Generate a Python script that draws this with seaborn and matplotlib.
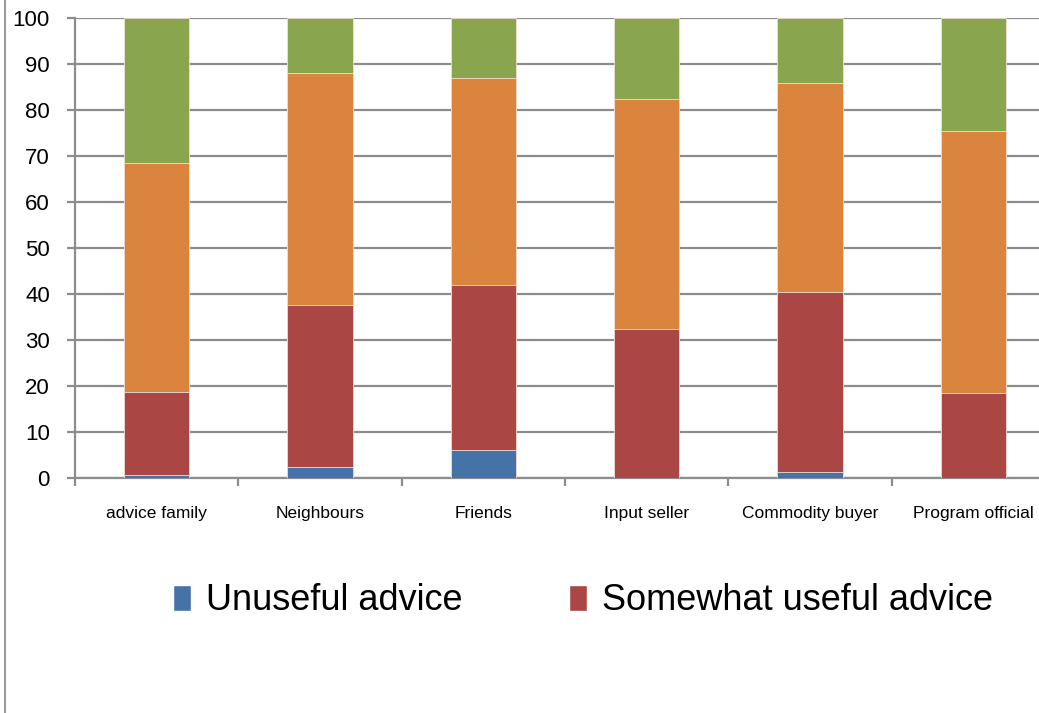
import matplotlib
matplotlib.use("Agg")
import matplotlib.pyplot as plt
import seaborn as sns
import pandas as pd
import numpy as np
from matplotlib.lines import Line2D
from matplotlib.patches import Patch

categories = ["advice family", "Neighbours", "Friends", "Input seller", "Commodity buyer", "Program official"]
unuseful = [0.7, 2.5, 6.1, 0.0, 1.2, 0.0]
somewhat_useful = [18.1, 35.1, 35.9, 32.3, 39.3, 18.5]
useful = [49.6, 50.4, 44.9, 50.0, 45.3, 56.9]
very_useful = [31.6, 12.0, 13.1, 17.7, 14.2, 24.6]

series_names = ["Unuseful advice", "Somewhat useful advice", "Useful advice", "Very useful advice"]
series_vals = [unuseful, somewhat_useful, useful, very_useful]
colors = ["#4572A7", "#AA4643", "#DB843D", "#89A54E"]

sns.set_theme(style="white")
plt.rcParams['font.family'] = ['Liberation Sans', 'DejaVu Sans']
plt.rcParams['text.color'] = 'black'

fig = plt.figure(figsize=(10.39, 7.13), dpi=100)
ax = fig.add_axes([75/1039, 1-478/713, 980/1039, 460/713])

cum = np.cumsum(np.array(series_vals), axis=0)
for i in range(len(series_names) - 1, -1, -1):
    df = pd.DataFrame({"cat": categories, "val": cum[i]})
    sns.barplot(data=df, x="cat", y="val", color=colors[i], width=0.4,
                edgecolor="#f0e0d8", linewidth=0.6, saturation=1, ax=ax, zorder=3)

ax.set_ylim(0, 100)
ax.set_xlim(-0.5, len(categories) - 0.5)
ax.set_yticks(np.arange(0, 101, 10))
ax.yaxis.grid(True, color="#8c8c8c", linewidth=1.6, zorder=0)
ax.set_axisbelow(True)
ax.set_xlabel("")
ax.set_ylabel("")
for s in ["top", "right"]:
    ax.spines[s].set_visible(False)
for s in ["left", "bottom"]:
    ax.spines[s].set_color("#8c8c8c")
    ax.spines[s].set_linewidth(1.6)

ax.tick_params(axis="y", which="major", left=True, length=6, width=1.6, color="#8c8c8c",
               pad=12, labelsize=16, labelcolor="black")
ax.set_xticks(np.arange(len(categories)))
ax.set_xticklabels(categories, fontsize=12.5)
ax.set_xticks(np.arange(-0.5, len(categories), 1.0), minor=True)
ax.tick_params(axis="x", which="major", length=0, pad=20, labelcolor="black")
ax.tick_params(axis="x", which="minor", bottom=True, length=6, width=1.6, color="#8c8c8c")

handles = [Patch(facecolor=colors[0]), Patch(facecolor=colors[1])]
leg = fig.legend(handles, series_names[:2], loc="center", bbox_to_anchor=(583/1039, 1-601/713),
                 ncol=2, frameon=False, handlelength=0.5, handleheight=0.75,
                 handletextpad=0.42, columnspacing=2.95, fontsize=26)
for t in leg.get_texts():
    t.set_color("black")

fig.add_artist(Line2D([5/1039, 5/1039], [0, 1], color="#9a9a9a", linewidth=1.5, transform=fig.transFigure))

fig.savefig("out.png", dpi=100)
